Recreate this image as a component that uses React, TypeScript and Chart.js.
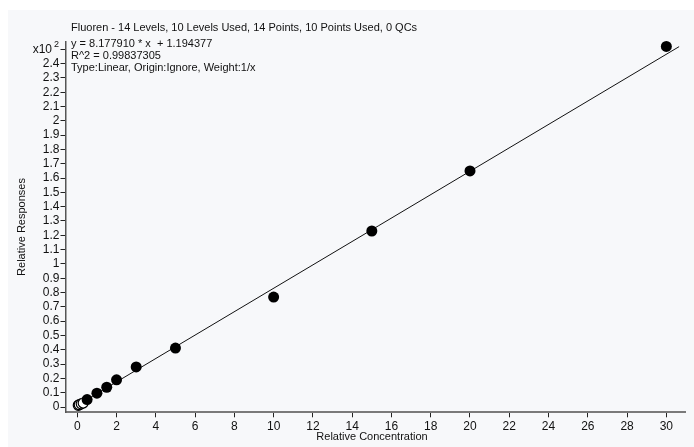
import React, { useEffect, useRef } from "react";
import { Chart, registerables } from "chart.js";

Chart.register(...registerables);

// Calibration points that were used in the fit (x in relative concentration, y in x10^2)
const usedX = [0.5, 1, 1.5, 2, 3, 5, 10, 15, 20, 30];
const usedY = [0.052, 0.097, 0.138, 0.19, 0.28, 0.412, 0.768, 1.23, 1.65, 2.52];

// Points not used in the fit (open markers)
const unusedX = [0.05, 0.1, 0.2, 0.3];
const unusedY = [0.012, 0.016, 0.022, 0.028];

// Regression line end points
const fitX = [0, 30.65];
const fitY = [0.0119, 2.5185];

const xTicks = [0, 2, 4, 6, 8, 10, 12, 14, 16, 18, 20, 22, 24, 26, 28, 30];
const xTickLabels = ["0", "2", "4", "6", "8", "10", "12", "14", "16", "18", "20", "22", "24", "26", "28", "30"];

const yTicks = [0, 0.1, 0.2, 0.3, 0.4, 0.5, 0.6, 0.7, 0.8, 0.9, 1, 1.1, 1.2, 1.3, 1.4, 1.5, 1.6, 1.7, 1.8, 1.9, 2, 2.1, 2.2, 2.3, 2.4, 2.5];
const yTickLabels = ["0", "0.1", "0.2", "0.3", "0.4", "0.5", "0.6", "0.7", "0.8", "0.9", "1", "1.1", "1.2", "1.3", "1.4", "1.5", "1.6", "1.7", "1.8", "1.9", "2", "2.1", "2.2", "2.3", "2.4", ""];

const headerLines = [
  "Fluoren - 14 Levels, 10 Levels Used, 14 Points, 10 Points Used, 0 QCs",
  "y = 8.177910 * x  + 1.194377",
  "R^2 = 0.99837305",
  "Type:Linear, Origin:Ignore, Weight:1/x",
];
const xTitle = "Relative Concentration";
const yTitle = "Relative Responses";

const FONT = "'Liberation Sans', Arial, sans-serif";

const textPlugin = {
  id: "textPlugin",
  afterDraw(chart: any) {
    const ctx = chart.ctx as CanvasRenderingContext2D;
    ctx.save();
    ctx.fillStyle = "#111";
    ctx.font = `11px ${FONT}`;
    ctx.textAlign = "left";
    ctx.textBaseline = "middle";
    const ys = [18, 34, 46, 58];
    headerLines.forEach((t, i) => ctx.fillText(t, 63, ys[i]));

    // axis titles
    ctx.textAlign = "center";
    ctx.fillText(xTitle, 364, 427);
    ctx.save();
    ctx.translate(14, 217);
    ctx.rotate(-Math.PI / 2);
    ctx.fillText(yTitle, 0, 0);
    ctx.restore();

    // x10^2 multiplier at the 2.5 tick
    const yPix = chart.scales.y.getPixelForValue(2.5);
    ctx.font = `12px ${FONT}`;
    ctx.textAlign = "right";
    ctx.fillText("x10", 44, yPix);
    ctx.font = `9px ${FONT}`;
    ctx.textAlign = "left";
    ctx.fillText("2", 46, yPix - 5);
    ctx.restore();
  },
};

export default function App() {
  const ref = useRef<HTMLCanvasElement | null>(null);

  useEffect(() => {
    if (!ref.current) return;
    const chart = new Chart(ref.current, {
      type: "scatter",
      data: {
        datasets: [
          {
            type: "scatter",
            data: usedX.map((x, i) => ({ x, y: usedY[i] })),
            backgroundColor: "#000",
            borderColor: "#000",
            borderWidth: 0,
            pointRadius: 5.5,
            order: 0,
            clip: false,
          } as any,
          {
            type: "scatter",
            data: unusedX.map((x, i) => ({ x, y: unusedY[i] })),
            backgroundColor: "#fff",
            borderColor: "#000",
            borderWidth: 1.2,
            pointRadius: 5,
            order: 1,
            clip: false,
          } as any,
          {
            type: "line",
            data: fitX.map((x, i) => ({ x, y: fitY[i] })),
            borderColor: "#111",
            borderWidth: 1,
            pointRadius: 0,
            fill: false,
            order: 2,
            clip: false,
          } as any,
        ],
      },
      options: {
        animation: false,
        responsive: false,
        layout: { padding: { top: 31.7, right: 9, left: 0, bottom: 0 } },
        plugins: { legend: { display: false }, tooltip: { enabled: false } },
        scales: {
          x: {
            type: "linear",
            min: -0.6,
            max: 30.95,
            afterBuildTicks: (s: any) => {
              s.ticks = xTicks.map((v) => ({ value: v }));
            },
            afterFit: (s: any) => {
              s.height = 34.7;
            },
            ticks: {
              autoSkip: false,
              maxRotation: 0,
              padding: 2,
              color: "#111",
              font: { family: FONT, size: 12 },
              callback: (_v: any, i: number) => xTickLabels[i],
            },
            grid: { drawOnChartArea: false, drawTicks: true, tickLength: 5, color: "#222", lineWidth: 1 },
            border: { display: true, color: "#7a7a7a", width: 2 },
          },
          y: {
            type: "linear",
            min: -0.037,
            max: 2.553,
            afterBuildTicks: (s: any) => {
              s.ticks = yTicks.map((v) => ({ value: v }));
            },
            afterFit: (s: any) => {
              s.width = 57.5;
            },
            ticks: {
              autoSkip: false,
              padding: 1,
              color: "#111",
              font: { family: FONT, size: 12 },
              callback: (_v: any, i: number) => yTickLabels[i],
            },
            grid: { drawOnChartArea: false, drawTicks: true, tickLength: 5, color: "#222", lineWidth: 1 },
            border: { display: true, color: "#555", width: 1.5 },
          },
        },
      },
      plugins: [textPlugin],
    } as any);
    return () => chart.destroy();
  }, []);

  return (
    <div
      style={{
        position: "fixed",
        left: 8,
        top: 10,
        width: 686,
        height: 437,
        background: "#f7f8fa",
      }}
    >
      <canvas ref={ref} width={686} height={437} style={{ width: 686, height: 437, display: "block" }} />
    </div>
  );
}
